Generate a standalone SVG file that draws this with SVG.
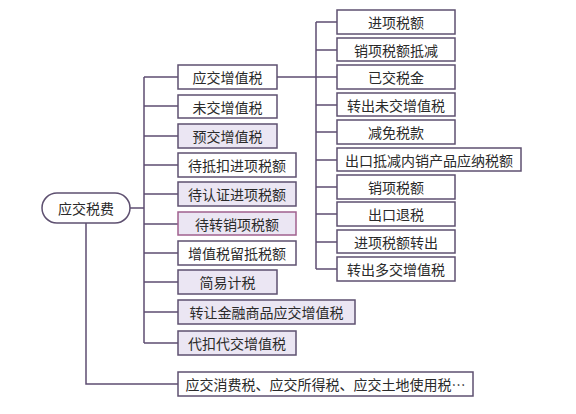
<svg xmlns="http://www.w3.org/2000/svg" width="576" height="414" viewBox="0 0 576 414">
<style>
.b{fill:#ffffff;stroke:#5e5070;stroke-width:1.5}
.f{fill:#ebe6f3;stroke:#5e5070;stroke-width:1.5}
.p{fill:#ebe6f3;stroke:#a0608e;stroke-width:1.5}
text{font-family:"Noto Sans CJK SC","Noto Sans",sans-serif;font-size:14px;fill:#2a2a2a;text-anchor:middle;dominant-baseline:central}
.c{fill:none;stroke:#5e4d72;stroke-width:1.5}
</style>
<rect width="576" height="414" fill="#ffffff"/>
<g id="connectors">
<path class="c" d="M130 208H144M144 77V343M144 77H178M144 106H178M144 136H178M144 165H178M144 194H178M144 224H178M144 253H178M144 282H178M144 312H178M144 343H178"/>
<path class="c" d="M86 223V384H178"/>
<path class="c" d="M277 77H316M316 22V269M316 22H337M316 50H337M316 77H337M316 105H337M316 132H337M316 160H337M316 187H337M316 214H337M316 242H337M316 269H337"/>
</g>
<g id="root"><rect x="42" y="193" width="88" height="30" rx="15" class="b"/><text x="86" y="208">应交税费</text></g>
<g id="n1"><rect x="178" y="65" width="99" height="24" class="b"/><text x="227.5" y="77">应交增值税</text></g>
<g id="n2"><rect x="178" y="95" width="99" height="23" class="b"/><text x="227.5" y="106.5">未交增值税</text></g>
<g id="n3"><rect x="178" y="124" width="99" height="24" class="f"/><text x="227.5" y="136">预交增值税</text></g>
<g id="n4"><rect x="178" y="153" width="118" height="24" class="b"/><text x="237" y="165">待抵扣进项税额</text></g>
<g id="n5"><rect x="178" y="182" width="118" height="24" class="f"/><text x="237" y="194">待认证进项税额</text></g>
<g id="n6"><rect x="178" y="212" width="118" height="23" class="p"/><text x="237" y="223.5">待转销项税额</text></g>
<g id="n7"><rect x="178" y="241" width="118" height="24" class="b"/><text x="237" y="253">增值税留抵税额</text></g>
<g id="n8"><rect x="178" y="270" width="99" height="24" class="f"/><text x="227.5" y="282">简易计税</text></g>
<g id="n9"><rect x="178" y="300" width="177" height="24" class="f"/><text x="266.5" y="312">转让金融商品应交增值税</text></g>
<g id="n10"><rect x="178" y="331" width="118" height="24" class="f"/><text x="237" y="343">代扣代交增值税</text></g>
<g id="n11"><rect x="178" y="372" width="295" height="24" class="b"/><text x="325.5" y="384">应交消费税、应交所得税、应交土地使用税…</text></g>
<g id="r1"><rect x="337" y="10" width="118" height="24" class="b"/><text x="396" y="22">进项税额</text></g>
<g id="r2"><rect x="337" y="38" width="118" height="23" class="b"/><text x="396" y="49.5">销项税额抵减</text></g>
<g id="r3"><rect x="337" y="65" width="118" height="24" class="b"/><text x="396" y="77">已交税金</text></g>
<g id="r4"><rect x="337" y="93" width="118" height="23" class="b"/><text x="396" y="104.5">转出未交增值税</text></g>
<g id="r5"><rect x="337" y="120" width="118" height="24" class="b"/><text x="396" y="132">减免税款</text></g>
<g id="r6"><rect x="337" y="148" width="184" height="23" class="b"/><text x="429" y="159.5">出口抵减内销产品应纳税额</text></g>
<g id="r7"><rect x="337" y="175" width="118" height="24" class="b"/><text x="396" y="187">销项税额</text></g>
<g id="r8"><rect x="337" y="202" width="118" height="24" class="b"/><text x="396" y="214">出口退税</text></g>
<g id="r9"><rect x="337" y="230" width="118" height="23" class="b"/><text x="396" y="241.5">进项税额转出</text></g>
<g id="r10"><rect x="337" y="257" width="118" height="24" class="b"/><text x="396" y="269">转出多交增值税</text></g>
</svg>
